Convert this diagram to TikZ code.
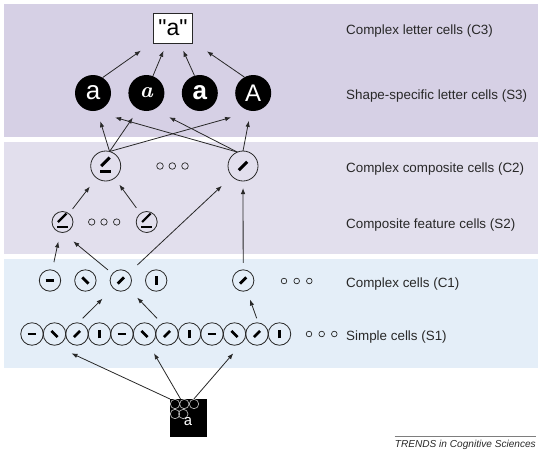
\documentclass[tikz,border=0pt]{standalone}
\usepackage{fontspec}
\usepackage{xcolor}
\usepackage{tikz}
\usetikzlibrary{arrows.meta,positioning}

\newfontfamily\helv{Liberation Sans}
\newfontfamily\mono{Liberation Mono}

\definecolor{bandC}{RGB}{214,208,229}
\definecolor{bandS}{RGB}{226,223,237}
\definecolor{bandV}{RGB}{228,238,248}
\definecolor{ink}{RGB}{40,40,40}

\begin{document}
\begin{tikzpicture}[
    x=1pt, y=-1pt,
    cell/.style={circle, draw=ink, line width=0.8pt, inner sep=0pt, outer sep=0pt,
    minimum size=21.4pt},
    barline/.style={line width=2.8pt, black},
    orient/.style={path picture={\draw[barline] (path picture bounding box.center)
    +(#1:-4.4pt) -- +(#1:4.4pt);}},
    longbar/.style={path picture={\draw[barline, line width=3pt]
    (path picture bounding box.center) +(45:-6pt) -- +(45:6pt);}},
    comp/.style={path picture={
    \begin{scope}[shift={(path picture bounding box.center)}, scale=#1]
    \draw[barline, line width=#1*3pt] (-5.5pt,-5pt) -- (5.5pt,-5pt);
    \draw[barline, line width=#1*3pt] (-4.5pt,0pt) -- (4pt,8.5pt);
    \end{scope}}},
    letter/.style={circle, fill=black, text=white, minimum size=36pt, inner sep=0pt},
    lab/.style={anchor=base west, inner sep=0pt, text=ink,
    font=\helv\fontsize{13.4}{16}\selectfont},
    dotc/.style={draw=ink, line width=0.7pt},
    arr/.style={-{Latex[length=6pt, width=4.5pt]}, line width=0.8pt, draw=ink}
]
\useasboundingbox (0,0) rectangle (540,453);
\fill[bandC] (3.5,4) rectangle (538,136.5);
\fill[bandS] (3.5,142) rectangle (538,253.5);
\fill[bandV] (3.5,258.5) rectangle (538,368);

\node[draw=ink, line width=0.8pt, fill=white, minimum width=39pt, minimum height=30pt,
  inner sep=0pt, font=\helv\fontsize{23}{26}\selectfont] (c3) at (173,28) {"a"};
\node[letter, font=\helv\fontsize{26}{28}\selectfont] (s3a) at (93,93) {a};
\node[letter, right=17pt of s3a, font=\bfseries\itshape\fontsize{22}{24}\selectfont] (s3b) {a};
\node[letter, right=17pt of s3b, font=\helv\bfseries\fontsize{26}{28}\selectfont] (s3c) {a};
\node[letter, right=17pt of s3c, font=\helv\fontsize{24}{26}\selectfont] (s3d) {A};

\node[cell, minimum size=30pt, comp=1] (c2a) at (105.7,166) {};
\node[cell, minimum size=30pt, longbar] (c2b) at (243,166) {};
\draw[dotc] (160,166) circle (3.3pt) (172.3,166) circle (3.3pt) (185,166) circle (3.3pt);

\node[cell, minimum size=21pt, comp=0.72] (s2a) at (62.5,222) {};
\node[cell, minimum size=21pt, comp=0.72] (s2b) at (146.7,222) {};
\draw[dotc] (91.7,222) circle (3.2pt) (104,222) circle (3.2pt) (116.7,222) circle (3.2pt);

\node[cell, orient=0] (c1a) at (50,280.5) {};
\node[cell, orient=-45, right=14pt of c1a] (c1b) {};
\node[cell, orient=45, right=14pt of c1b] (c1c) {};
\node[cell, orient=90, right=14pt of c1c] (c1d) {};
\node[cell, orient=45] (c1e) at (243.2,280.5) {};
\draw[dotc] (284,281) circle (2.8pt) (296.7,281) circle (2.8pt) (309.3,281) circle (2.8pt);

\node[cell, minimum size=22.5pt, orient=0] (s1a) at (32,334) {};
\node[cell, minimum size=22.5pt, orient=-45, right=0pt of s1a] (s1b) {};
\node[cell, minimum size=22.5pt, orient=45, right=0pt of s1b] (s1c) {};
\node[cell, minimum size=22.5pt, orient=90, right=0pt of s1c] (s1d) {};
\node[cell, minimum size=22.5pt, orient=0, right=0pt of s1d] (s1e) {};
\node[cell, minimum size=22.5pt, orient=-45, right=0pt of s1e] (s1f) {};
\node[cell, minimum size=22.5pt, orient=45, right=0pt of s1f] (s1g) {};
\node[cell, minimum size=22.5pt, orient=90, right=0pt of s1g] (s1h) {};
\node[cell, minimum size=22.5pt, orient=0, right=0pt of s1h] (s1i) {};
\node[cell, minimum size=22.5pt, orient=-45, right=0pt of s1i] (s1j) {};
\node[cell, minimum size=22.5pt, orient=45, right=0pt of s1j] (s1k) {};
\node[cell, minimum size=22.5pt, orient=90, right=0pt of s1k] (s1l) {};
\draw[dotc] (309,334) circle (2.8pt) (321.7,334) circle (2.8pt) (334.3,334) circle (2.8pt);

\node[fill=black, minimum width=37pt, minimum height=38pt, inner sep=0pt] (inp) at (188.7,418.2) {};
\draw[black!30, line width=0.7pt] (175,404) circle (4.7pt) (184.3,404) circle (4.7pt)
  (194,404) circle (4.7pt) (175,414) circle (4.7pt) (183.3,414) circle (4.7pt);
\node[text=white, inner sep=0pt, font=\mono\fontsize{15}{15}\selectfont] (inpa) at (188,422) {a};

\node[lab] (lc3) at (346,34.5) {Complex letter cells (C3)};
\node[lab] (ls3) at (346,99.3) {Shape-specific letter cells (S3)};
\node[lab] (lc2) at (346,172) {Complex composite cells (C2)};
\node[lab] (ls2) at (346,228.3) {Composite feature cells (S2)};
\node[lab] (lc1) at (346,287.3) {Complex cells (C1)};
\node[lab] (ls1) at (346,340) {Simple cells (S1)};

\draw[arr, shorten >=15pt] (s3a.58) -- (c3);
\draw[arr, shorten >=8pt] (s3b.69) -- (c3);
\draw[arr, shorten >=8pt] (s3c.107) -- (c3);
\draw[arr, shorten >=17pt] (s3d.119) -- (c3);

\draw[arr, shorten >=11pt] (c2a.75) -- (s3a.283);
\draw[arr, shorten >=10pt] (c2a.75) -- (s3b.244);
\draw[arr, shorten >=23pt] (c2a.75) -- (s3d.south);
\draw[arr, shorten >=23pt] (c2b.112) -- (s3a.south);
\draw[arr, shorten >=17pt] (c2b.112) -- (s3b.295);
\draw[arr, shorten >=10pt] (c2b.north) -- (s3d.262);

\draw[arr, shorten <=6pt, shorten >=11pt] (s2a) -- (c2a);
\draw[arr, shorten <=7pt, shorten >=8pt] (s2b) -- (c2a);

\draw[arr, shorten <=8pt, shorten >=9.5pt] (c1a) -- (s2a);
\draw[arr, shorten <=6pt, shorten >=14pt] (c1c) -- (s2a.south);
\draw[arr, shorten <=12pt, shorten >=14pt] (c1c) -- (c2b);
\draw[arr, shorten <=7pt, shorten >=7pt] (c1e) -- (c2b);

\coordinate (p1) at (82.7,318.3);
\coordinate (p2) at (157,318.3);
\coordinate (p3) at (256.7,318.3);
\draw[arr, shorten >=15pt] (p1) -- (c1c);
\draw[arr, shorten >=13pt] (p2) -- (c1c);
\draw[arr, shorten >=9.5pt] (p3) -- (c1e);

\coordinate (q1) at (71.5,353.3);
\coordinate (q2) at (154,353.3);
\coordinate (q3) at (233.3,353.3);
\draw[arr] (inp.north west) -- (q1);
\draw[arr] (inp.113) -- (q2);
\draw[arr] (inp.75) -- (q3);

\node[anchor=base east, inner xsep=0pt, inner ysep=3.5pt, text=ink,
  font=\helv\itshape\fontsize{10.1}{12}\selectfont] (src) at (536,447.7) {TRENDS in Cognitive Sciences};
\draw[ink!60, line width=0.6pt] (src.north west) -- (src.north east);
\end{tikzpicture}
\end{document}
